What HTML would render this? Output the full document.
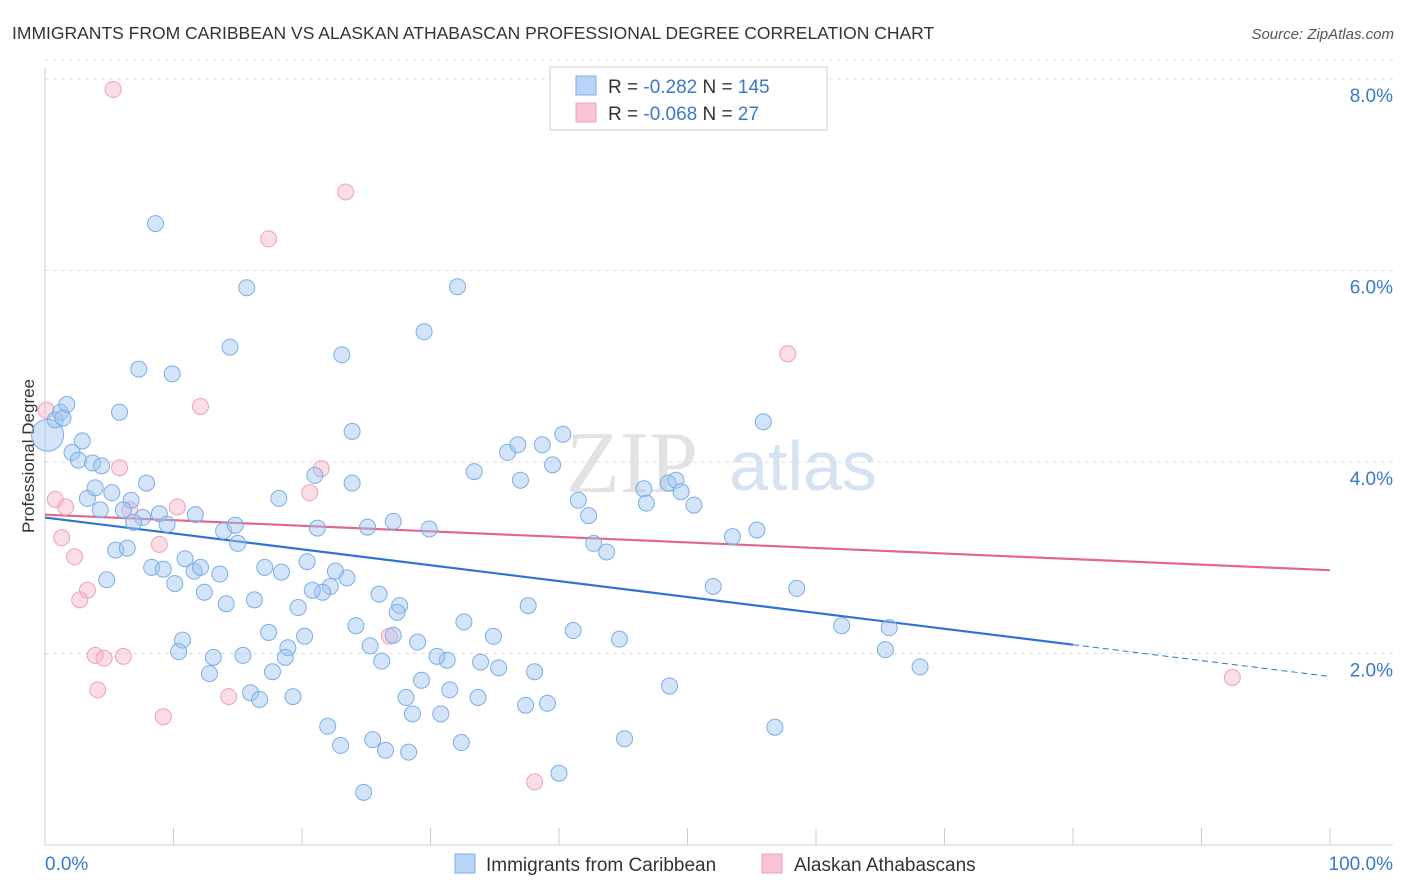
<!DOCTYPE html>
<html><head><meta charset="utf-8">
<style>
body{margin:0;background:#fff;font-family:"Liberation Sans",sans-serif;}
#wrap{position:relative;width:1406px;height:892px;overflow:hidden;}
</style></head>
<body>
<div id="wrap">
<svg id="svg" width="1406" height="892">
<text x="12" y="39" font-size="17.5" fill="#333">IMMIGRANTS FROM CARIBBEAN VS ALASKAN ATHABASCAN PROFESSIONAL DEGREE CORRELATION CHART</text>
<text x="1394" y="39" font-size="15" fill="#555" font-style="italic" text-anchor="end">Source: ZipAtlas.com</text>
<text x="34" y="456" font-size="17" fill="#333" text-anchor="middle" transform="rotate(-90 34 456)">Professional Degree</text>
<g>
<text x="632" y="492" font-size="88" fill="#e2e2e2" font-family="Liberation Serif,serif" text-anchor="middle">ZIP</text>
<text x="803" y="490" font-size="70" fill="#d4e2f2" text-anchor="middle">atlas</text>
</g>
<g id="grid"></g><g id="axes"></g><g id="trend"></g><g id="pts"></g>
<g>
<rect x="550" y="67" width="277" height="63" fill="#fff" stroke="#ccc"/>
<rect x="576" y="76" width="20" height="19" fill="#b8d4f6" stroke="#7aaee8"/>
<rect x="576" y="103" width="20" height="19" fill="#f8c4d4" stroke="#f0a0b8"/>
<text x="608" y="93" font-size="19" fill="#333">R = <tspan fill="#3a78d0">-0.282</tspan>   N = <tspan fill="#3a78d0">145</tspan></text>
<text x="608" y="120" font-size="19" fill="#333">R = <tspan fill="#3a78d0">-0.068</tspan>   N =  <tspan fill="#3a78d0"> 27</tspan></text>
</g>
<g>
<rect x="455" y="854" width="20" height="19" fill="#b8d4f6" stroke="#7aaee8"/>
<text x="486" y="871" font-size="19" fill="#333">Immigrants from Caribbean</text>
<rect x="762" y="854" width="20" height="19" fill="#f8c4d4" stroke="#f0a0b8"/>
<text x="794" y="871" font-size="19" fill="#333">Alaskan Athabascans</text>
</g>
</svg>
</div>
<script>
const yTicks=[2,4,6,8];
const yTickLabels=["2.0%","4.0%","6.0%","8.0%"];
const blueX=[0.2,0.8,1.2,1.7,1.4,2.9,2.1,2.6,3.7,4.4,5.8,7.3,9.9,8.6,15.7,14.4,32.1,29.5,23.1,23.9,3.3,3.9,5.2,4.3,6.7,7.9,6.1,7.6,6.9,8.9,9.5,11.7,5.5,6.4,4.8,8.3,9.2,10.9,11.6,12.1,10.1,12.4,13.6,14.1,13.9,14.8,15.0,18.2,16.3,17.1,18.4,20.4,21.2,21.0,23.9,25.1,27.1,29.9,33.4,36.0,36.8,37.0,38.7,39.5,40.3,41.5,42.3,42.7,43.7,46.6,46.8,48.5,49.1,49.5,50.5,55.9,55.4,53.5,52.0,58.5,62.0,65.7,65.4,68.1,56.8,48.6,45.1,44.7,41.1,37.6,34.9,32.6,33.9,35.3,38.1,39.1,37.4,33.7,31.5,31.3,30.5,29.0,29.3,30.8,28.6,28.1,27.6,27.4,27.1,26.0,26.2,25.3,24.2,23.5,22.6,22.2,21.6,20.8,19.7,20.2,18.9,18.7,17.4,17.7,15.4,13.1,12.8,10.7,10.4,16.0,16.7,19.3,22.0,23.0,25.5,26.5,28.3,32.4,40.0,24.8];
const blueY=[4.28,4.44,4.52,4.60,4.46,4.22,4.10,4.02,3.99,3.96,4.52,4.97,4.92,6.49,5.82,5.20,5.83,5.36,5.12,4.32,3.62,3.73,3.68,3.50,3.60,3.78,3.50,3.42,3.37,3.46,3.35,3.45,3.08,3.10,2.77,2.90,2.88,2.99,2.86,2.90,2.73,2.64,2.83,2.52,3.28,3.34,3.15,3.62,2.56,2.90,2.85,2.96,3.31,3.86,3.78,3.32,3.38,3.30,3.90,4.10,4.18,3.81,4.18,3.97,4.29,3.60,3.44,3.15,3.06,3.72,3.57,3.78,3.81,3.69,3.55,4.42,3.29,3.22,2.70,2.68,2.29,2.27,2.04,1.86,1.23,1.66,1.11,2.15,2.24,2.50,2.18,2.33,1.91,1.85,1.81,1.48,1.46,1.54,1.62,1.93,1.97,2.12,1.72,1.37,1.37,1.54,2.50,2.43,2.19,2.62,1.92,2.08,2.29,2.79,2.86,2.70,2.64,2.66,2.48,2.18,2.06,1.96,2.22,1.81,1.98,1.96,1.79,2.14,2.02,1.59,1.52,1.55,1.24,1.04,1.10,0.99,0.97,1.07,0.75,0.55];
const pinkX=[5.3,23.4,17.4,57.8,12.1,0.1,5.8,21.5,20.6,0.8,1.6,10.3,6.6,1.3,8.9,2.3,3.3,2.7,3.9,4.6,6.1,4.1,9.2,14.3,26.8,38.1,92.4];
const pinkY=[7.89,6.82,6.33,5.13,4.58,4.54,3.94,3.93,3.68,3.61,3.53,3.53,3.50,3.21,3.14,3.01,2.66,2.56,1.98,1.95,1.97,1.62,1.34,1.55,2.18,0.66,1.75];
const blueTrend=[3.42,-1.66]; // intercept, slope per 100%
const pinkTrend=[3.45,-0.58];
const NS="http://www.w3.org/2000/svg";
const X=v=>45+v*12.85, Y=v=>845-v*95.75;
function mk(tag,attrs,parent){const e=document.createElementNS(NS,tag);for(const k in attrs)e.setAttribute(k,attrs[k]);document.getElementById(parent).appendChild(e);return e;}
yTicks.forEach((t,i)=>{
 const g=mk('line',{x1:45,x2:1393,y1:Y(t),y2:Y(t),stroke:'#ddd','stroke-dasharray':'4,4'},'grid');
 
 
 const l=mk('text',{x:1393,y:Y(t)+23,'font-size':19,fill:'#3a78d0','text-anchor':'end'},'axes');
 l.textContent=yTickLabels[i];
 
 
});
const tg=mk('line',{x1:45,x2:1393,y1:Y(8.2),y2:Y(8.2),stroke:'#ddd','stroke-dasharray':'4,4'},'grid');
mk('line',{x1:45,x2:45,y1:68,y2:845,stroke:'#ccc'},'axes');
const ax=mk('line',{x1:45,x2:1393,y1:845,y2:845,stroke:'#ccc'},'axes');


for(let i=0;i<=10;i++){mk('line',{x1:X(i*10),x2:X(i*10),y1:828,y2:845,stroke:'#ccc'},'axes');}
const xl0=mk('text',{x:45,y:870,'font-size':19,fill:'#3a78d0'},'axes');xl0.textContent='0.0%';


const xl1=mk('text',{x:1393,y:870,'font-size':19,fill:'#3a78d0','text-anchor':'end'},'axes');xl1.textContent='100.0%';


const bt=v=>blueTrend[0]+blueTrend[1]*v/100, pt=v=>pinkTrend[0]+pinkTrend[1]*v/100;
let t1=mk('line',{x1:X(0),y1:Y(bt(0)),x2:X(80),y2:Y(bt(80)),stroke:'#2f72d6','stroke-width':2.2},'trend');


let t2=mk('line',{x1:X(80),y1:Y(bt(80)),x2:X(100),y2:Y(bt(100)),stroke:'#2f72d6','stroke-width':1,'stroke-dasharray':'6,4'},'trend');


let t3=mk('line',{x1:X(0),y1:Y(pt(0)),x2:X(100),y2:Y(pt(100)),stroke:'#e2668f','stroke-width':2.2},'trend');


pinkX.forEach((x,i)=>{
 const c=mk('circle',{cx:X(x),cy:Y(pinkY[i]),r:8,fill:'rgba(246,180,202,0.45)',stroke:'#f0a0b8','stroke-width':1},'pts');
 
 
});
blueX.forEach((x,i)=>{
 const c=mk('circle',{cx:X(x),cy:Y(blueY[i]),r:i===0?16:8,fill:'rgba(160,196,240,0.45)',stroke:'#7aaee8','stroke-width':1},'pts');
 
 
});
</script>
</body></html>
